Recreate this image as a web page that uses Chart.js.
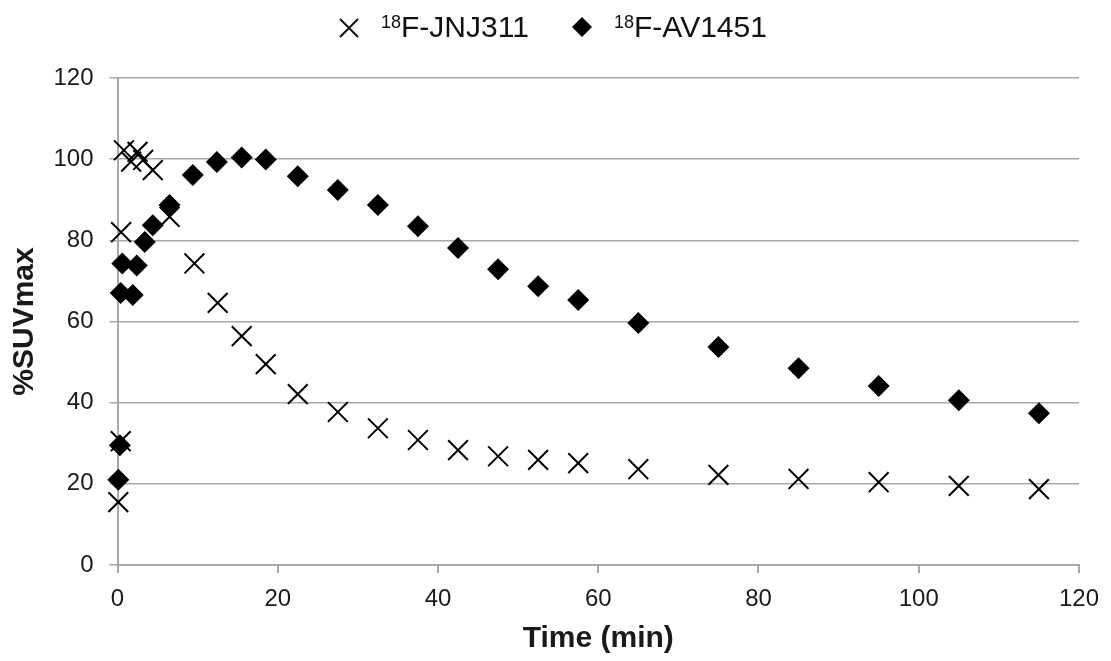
<!DOCTYPE html>
<html>
<head>
<meta charset="utf-8">
<script src="https://cdn.jsdelivr.net/npm/chart.js@4.4.1/dist/chart.umd.min.js"></script>
<style>
  body { margin: 0; background: #fff; }
  #wrap { position: relative; width: 1111px; height: 661px; }
  #legend { position: absolute; left: 0; top: 0; width: 1111px; height: 50px;
            font-family: 'Liberation Sans', Arial, sans-serif; font-size: 30px; color: #111; }
  #legend .txt { position: absolute; top: 12px; line-height: 30px; white-space: nowrap; }
  #legend .txt span { font-size: 18px; position: relative; top: -9px; }
  #legend svg { position: absolute; }
</style>
</head>
<body>
<div id="wrap">
  <canvas id="chart"></canvas>
  <div id="legend">
    <svg style="left:338px;top:17px" width="22" height="22"><path d="M2 2 L20 20 M20 2 L2 20" stroke="#111" stroke-width="2"/></svg>
    <div class="txt" style="left:381px"><span>18</span>F-JNJ311</div>
    <svg style="left:571px;top:16px" width="22" height="22"><path d="M11 1 L21 11 L11 21 L1 11 Z" fill="#000"/></svg>
    <div class="txt" style="left:614px"><span>18</span>F-AV1451</div>
  </div>
</div>
<script>
// time points (min) and %SUVmax
const jnjTime  = [0.1, 0.4, 0.45, 0.8, 1.7, 2.5, 3.2, 4.4, 6.5, 9.6, 12.5, 15.5, 18.5, 22.5, 27.5, 32.5, 37.5, 42.5, 47.5, 52.5, 57.5, 65, 75, 85, 95, 105, 115];
const jnjValue = [15.5, 30.5, 82, 102.2, 99.4, 101.8, 99.8, 97.3, 85.8, 74.3, 64.6, 56.4, 49.5, 42.1, 37.7, 33.7, 30.8, 28.3, 26.8, 25.9, 25.1, 23.6, 22.2, 21.2, 20.4, 19.5, 18.7];

const avTime  = [0.1, 0.3, 0.4, 0.6, 1.9, 2.4, 3.4, 4.4, 6.5, 9.4, 12.4, 15.5, 18.5, 22.5, 27.5, 32.5, 37.5, 42.5, 47.5, 52.5, 57.5, 65, 75, 85, 95, 105, 115];
const avValue = [21, 29.5, 67, 74.3, 66.5, 73.8, 79.6, 83.7, 88.7, 96.1, 99.3, 100.4, 99.9, 95.8, 92.4, 88.7, 83.5, 78.1, 72.9, 68.7, 65.3, 59.6, 53.7, 48.5, 44.1, 40.6, 37.4];

const xTicks = [0, 20, 40, 60, 80, 100, 120];
const yTicks = [0, 20, 40, 60, 80, 100, 120];

const axisGray = '#a8a8a8';
const textColor = '#1a1a1a';

const toPoints = (xs, ys) => xs.map((x, i) => ({ x: x, y: ys[i] }));

const ctx = document.getElementById('chart');
new Chart(ctx, {
  type: 'scatter',
  data: {
    datasets: [
      {
        label: '18F-JNJ311',
        data: toPoints(jnjTime, jnjValue),
        pointStyle: 'crossRot',
        pointRadius: 14,
        borderColor: '#000',
        borderWidth: 2,
        clip: false
      },
      {
        label: '18F-AV1451',
        data: toPoints(avTime, avValue),
        pointStyle: 'rectRot',
        pointRadius: 11,
        backgroundColor: '#000',
        borderColor: '#000',
        borderWidth: 0,
        clip: false
      }
    ]
  },
  options: {
    responsive: true,
    maintainAspectRatio: false,
    animation: false,
    events: [],
    layout: { padding: { top: 78, right: 31, bottom: 0, left: 0 } },
    plugins: {
      legend: { display: false },
      tooltip: { enabled: false }
    },
    scales: {
      x: {
        type: 'linear',
        min: 0,
        max: 120,
        afterBuildTicks: (scale) => { scale.ticks = xTicks.map(v => ({ value: v })); },
        afterFit: (scale) => { scale.height = 96; },
        ticks: {
          color: textColor,
          padding: 12,
          font: { family: "'Liberation Sans Narrow', 'Liberation Sans', Arial", size: 24 }
        },
        grid: { drawOnChartArea: false, drawTicks: true, tickLength: 8, tickColor: axisGray, lineWidth: 2 },
        border: { color: axisGray, width: 2 },
        title: {
          display: true,
          text: 'Time (min)',
          color: textColor,
          font: { family: "'Liberation Sans', Arial", size: 30, weight: 'bold' },
          padding: { top: 0, bottom: 4 }
        }
      },
      y: {
        min: 0,
        max: 120,
        afterBuildTicks: (scale) => { scale.ticks = yTicks.map(v => ({ value: v })); },
        afterFit: (scale) => { scale.width = 117.5; },
        ticks: {
          color: textColor,
          padding: 16,
          font: { family: "'Liberation Sans', Arial", size: 24 }
        },
        grid: { color: axisGray, lineWidth: 1.5, tickLength: 8, tickColor: axisGray },
        border: { color: axisGray, width: 2 },
        title: {
          display: true,
          text: '%SUVmax',
          color: textColor,
          font: { family: "'Liberation Sans', Arial", size: 30, weight: 'bold' },
          padding: { top: 7, bottom: 0 }
        }
      }
    }
  }
});
</script>
</body>
</html>
